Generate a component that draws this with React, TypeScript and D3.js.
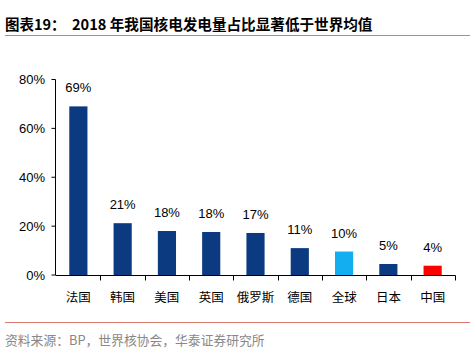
import React from "react";
import * as d3 from "d3";

const categories = ["法国", "韩国", "美国", "英国", "俄罗斯", "德国", "全球", "日本", "中国"];
const values = [69, 21.2, 18.0, 17.6, 17.2, 11.0, 9.6, 4.5, 3.8];
const valueLabels = ["69%", "21%", "18%", "18%", "17%", "11%", "10%", "5%", "4%"];
const barColors = ["#0b3a80", "#0b3a80", "#0b3a80", "#0b3a80", "#0b3a80", "#0b3a80", "#12aeef", "#0b3a80", "#fe0000"];
const yTicks = [0, 20, 40, 60, 80];
const titleLabel = "图表19：";
const titleText = "2018 年我国核电发电量占比显著低于世界均值";
const sourceText = "资料来源：BP，世界核协会，华泰证券研究所";

export default function App() {
  const W = 474, H = 357;
  const x = d3.scaleBand<string>().domain(categories).range([56, 455]).paddingInner(0.59).paddingOuter(0.3);
  const y = d3.scaleLinear().domain([0, 80]).range([275, 79.5]);
  const xb = d3.scaleBand<string>().domain(categories).range([56, 455]);
  const font = "'Liberation Sans', Arial, sans-serif";
  const cjk = "'Noto Sans CJK SC', sans-serif";
  return (
    <svg width={W} height={H} style={{ position: "absolute", left: 0, top: 0, background: "#fff" }}>
      <text x={5} y={30} fontFamily={cjk} fontWeight="bold" fontSize={14.5} fill="#000">{titleLabel}</text>
      <text x={72} y={30} fontFamily={cjk} fontWeight="bold" fontSize={14.6} fill="#000">{titleText}</text>
      <line x1={5} x2={470} y1={35.5} y2={35.5} stroke="#d97a6e" strokeWidth={1.2} />
      {/* y axis */}
      <line x1={55.5} x2={55.5} y1={y(80)} y2={y(0)} stroke="#000" strokeWidth={1} />
      {yTicks.map((t) => (
        <g key={t}>
          <line x1={51.5} x2={55.5} y1={y(t)} y2={y(t)} stroke="#000" />
          <text x={45} y={y(t)} dy="0.35em" textAnchor="end" fontFamily={font} fontSize={13} fill="#000">{t}%</text>
        </g>
      ))}
      {/* x axis */}
      <line x1={55.5} x2={455.5} y1={275.5} y2={275.5} stroke="#000" />
      {categories.map((c) => (
        <line key={"t" + c} x1={Math.round(xb(c)! + xb.bandwidth()) + 0.5} x2={Math.round(xb(c)! + xb.bandwidth()) + 0.5} y1={275.5} y2={280.5} stroke="#000" />
      ))}
      {categories.map((c, i) => (
        <g key={c}>
          <rect x={x(c)} y={y(values[i])} width={x.bandwidth()} height={y(0) - y(values[i])} fill={barColors[i]} />
          <text x={x(c)! + x.bandwidth() / 2} y={y(values[i]) - 14} textAnchor="middle" fontFamily={font} fontSize={13} fill="#000">{valueLabels[i]}</text>
          <text x={xb(c)! + xb.bandwidth() / 2} y={302} textAnchor="middle" fontFamily={cjk} fontSize={12.5} fill="#000">{c}</text>
        </g>
      ))}
      <line x1={5} x2={470} y1={322.5} y2={322.5} stroke="#d97a6e" strokeWidth={1.2} />
      <text x={5} y={345} fontFamily={cjk} fontSize={12.8} fill="#888">{sourceText}</text>
    </svg>
  );
}
